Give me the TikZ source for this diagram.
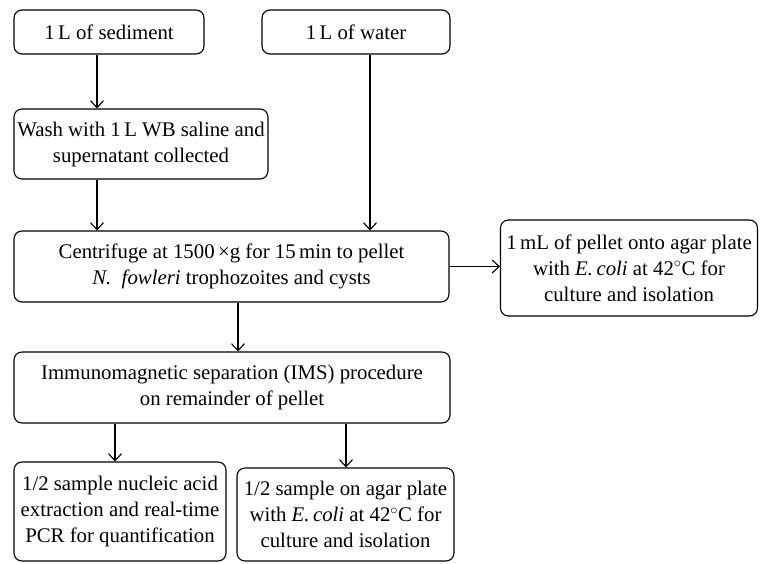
\documentclass[tikz,border=0pt]{standalone}
\usepackage{fontspec}
\setmainfont{Liberation Serif}
\usetikzlibrary{arrows.meta}
\begin{document}
\begin{tikzpicture}[x=1pt,y=-1pt,
  box/.style={draw, rounded corners=8pt, line width=1.1pt, align=center,
    inner sep=0pt, font=\fontsize{20.8}{26}\selectfont},
  arr/.style={line width=1.1pt, -{Straight Barb[length=7pt,width=13pt]}}]
\useasboundingbox (0,0) rectangle (760,563);
\node[box, minimum width=190pt, minimum height=44pt] (sed) at (109,32) {1\,L of sediment};
\node[box, minimum width=188pt, minimum height=44pt] (water) at (356,32) {1\,L of water};
\node[box, minimum width=254pt, minimum height=70pt] (wash) at (141,144) {Wash with 1\,L WB saline and\\supernatant collected};
\node[box, minimum width=435pt, minimum height=71pt] (cent) at (231.5,266.5) {Centrifuge at 1500\,×g for 15\,min to pellet\\\textit{N.~~fowleri} trophozoites and cysts};
\node[box, minimum width=257pt, minimum height=96pt] (right) at (629,268) {1\,mL of pellet onto agar plate\\with \textit{E.\,coli} at 42$^{\circ}$C for\\culture and isolation};
\node[box, minimum width=436pt, minimum height=71pt] (ims) at (232,387.5) {Immunomagnetic separation (IMS) procedure\\on remainder of pellet};
\node[box, minimum width=212pt, minimum height=99pt] (bl) at (120,511.5) {1/2 sample nucleic acid\\extraction and real-time\\PCR for quantification};
\node[box, minimum width=217pt, minimum height=93pt] (br) at (345.5,514.5) {1/2 sample on agar plate\\with \textit{E.\,coli} at 42$^{\circ}$C for\\culture and isolation};
\coordinate (xa) at (97,0);
\coordinate (xb) at (370,0);
\coordinate (xc) at (238,0);
\coordinate (xd) at (115,0);
\coordinate (xe) at (346,0);
\draw[arr] (sed.south -| xa) -- (wash.north -| xa);
\draw[arr] (wash.south -| xa) -- (cent.north -| xa);
\draw[arr] (water.south -| xb) -- (cent.north -| xb);
\draw[arr] (cent.east) -- (cent.east -| right.west);
\draw[arr] (cent.south -| xc) -- (ims.north -| xc);
\draw[arr] (ims.south -| xd) -- (bl.north -| xd);
\draw[arr] (ims.south -| xe) -- (br.north -| xe);
\end{tikzpicture}
\end{document}
